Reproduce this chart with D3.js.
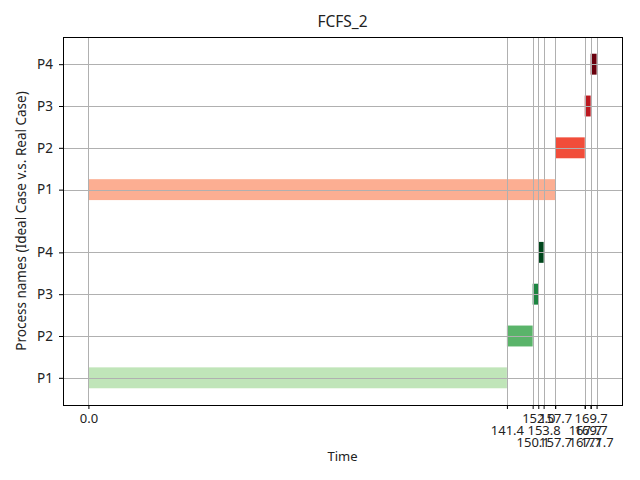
<!DOCTYPE html>
<html>
<head>
<meta charset="utf-8">
<script src="https://cdn.jsdelivr.net/npm/d3@7"></script>
<style>
  body { margin: 0; background: #fff; }
  text { font-family: "Noto Sans", sans-serif; }
</style>
</head>
<body>
<div id="canvas"></div>
<script>
// process names and bar data (ideal case below, real case above)
var processes = ['P1', 'P2', 'P3', 'P4'];
var idealStart = [0, 141.4, 150.1, 152.0];
var idealEnd   = [141.4, 150.1, 152.0, 153.8];
var realStart  = [0, 157.7, 167.7, 169.7];
var realEnd    = [157.7, 167.7, 169.7, 171.7];
var idealRow = [1, 2, 3, 4];
var realRow  = [5.5, 6.5, 7.5, 8.5];
var idealColors = ['#c0e5b9', '#5ab46a', '#1d8541', '#00461c'];
var realColors  = ['#fcae92', '#f14d3a', '#bb1920', '#69000d'];
// x tick labels, in the order they were put on the axis
var xTicks = [0.0, 141.4, 150.1, 152.0, 153.8, 157.7, 157.7, 167.7, 167.7, 169.7, 169.7, 171.7];

var width = 640, height = 480;
var margin = { left: 63, top: 37, right: 18, bottom: 75 };
var innerWidth = width - margin.left - margin.right;
var innerHeight = height - margin.top - margin.bottom;
var barH = 0.5;

var x = d3.scaleLinear().domain([-8.585, 180.285]).range([0, innerWidth]);
var y = d3.scaleLinear().domain([0.35, 9.15]).range([innerHeight, 0]);

var svg = d3.select('#canvas').append('svg')
  .attr('width', width)
  .attr('height', height);
svg.append('rect').attr('width', width).attr('height', height).attr('fill', '#fff');

var g = svg.append('g')
  .attr('transform', 'translate(' + margin.left + ',' + margin.top + ')');

// bars
var bars = [];
processes.forEach(function (p, i) {
  bars.push({ s: idealStart[i], e: idealEnd[i], row: idealRow[i], c: idealColors[i] });
  bars.push({ s: realStart[i], e: realEnd[i], row: realRow[i], c: realColors[i] });
});
g.selectAll('rect.bar')
  .data(bars)
  .enter()
  .append('rect')
  .attr('class', 'bar')
  .attr('x', d => x(d.s))
  .attr('width', d => x(d.e) - x(d.s))
  .attr('y', d => y(d.row + barH / 2))
  .attr('height', d => y(d.row - barH / 2) - y(d.row + barH / 2))
  .attr('fill', d => d.c);

// grid, drawn on top of the bars
var rows = idealRow.concat(realRow);
g.append('g').selectAll('line')
  .data(xTicks)
  .enter().append('line')
  .attr('x1', d => Math.round(x(d)) + 0.5).attr('x2', d => Math.round(x(d)) + 0.5)
  .attr('y1', 0).attr('y2', innerHeight)
  .attr('stroke', '#b0b0b0').attr('stroke-width', 1);
g.append('g').selectAll('line')
  .data(rows)
  .enter().append('line')
  .attr('y1', d => Math.round(y(d)) + 0.5).attr('y2', d => Math.round(y(d)) + 0.5)
  .attr('x1', 0).attr('x2', innerWidth)
  .attr('stroke', '#b0b0b0').attr('stroke-width', 1);

// x axis with staggered labels
var xAxis = g.append('g')
  .attr('transform', 'translate(0,' + innerHeight + ')')
  .call(d3.axisBottom(x).tickValues(xTicks).tickSize(4).tickSizeOuter(0).tickFormat(d3.format('.1f')));
xAxis.select('.domain').remove();
xAxis.selectAll('.tick text')
  .attr('y', (d, i) => 9 + (i % 3) * 12)
  .attr('fill', '#222')
  .style('font-size', '13px');

// y axis
var yAxis = g.append('g')
  .call(d3.axisLeft(y).tickValues(rows).tickSize(4).tickSizeOuter(0)
    .tickFormat((d, i) => processes[i % 4]));
yAxis.select('.domain').remove();
yAxis.selectAll('.tick text').attr('fill', '#222').attr('x', -10).style('font-size', '13.5px');

// frame
g.append('rect')
  .attr('x', 0.5).attr('y', 0.5)
  .attr('width', innerWidth).attr('height', innerHeight)
  .attr('fill', 'none').attr('stroke', '#000').attr('stroke-width', 1);

// titles
svg.append('text')
  .attr('x', margin.left + innerWidth / 2).attr('y', 27)
  .attr('text-anchor', 'middle')
  .attr('fill', '#222')
  .style('font-size', '15.5px')
  .text('FCFS_2');
svg.append('text')
  .attr('x', margin.left + innerWidth / 2).attr('y', 461)
  .attr('text-anchor', 'middle')
  .attr('fill', '#222')
  .style('font-size', '13px')
  .text('Time');
svg.append('text')
  .attr('transform', 'translate(26,' + (margin.top + innerHeight / 2) + ') rotate(-90)')
  .attr('text-anchor', 'middle')
  .attr('fill', '#222')
  .style('font-size', '13.5px')
  .text('Process names (Ideal Case v.s. Real Case)');
</script>
</body>
</html>
